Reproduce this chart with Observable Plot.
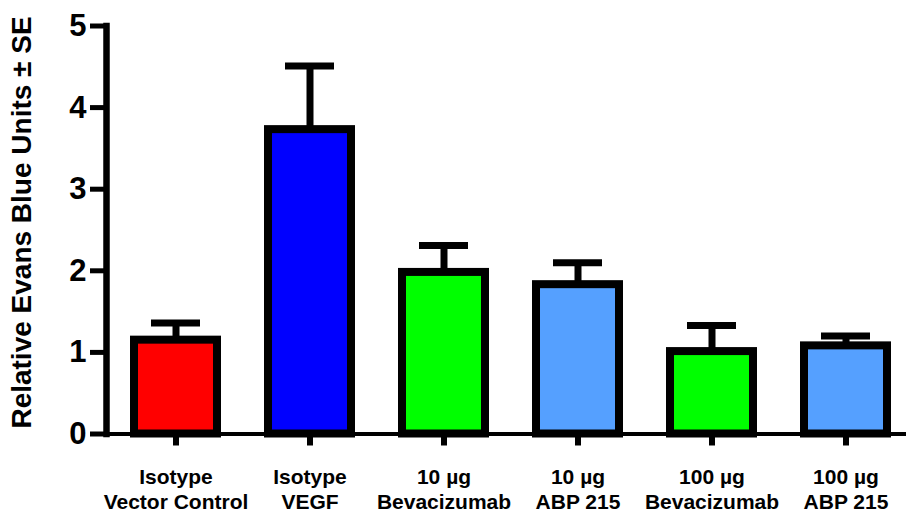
<!DOCTYPE html>
<html>
<head>
<meta charset="utf-8">
<script src="https://cdn.jsdelivr.net/npm/d3@7"></script>
<script src="https://cdn.jsdelivr.net/npm/@observablehq/plot@0.6"></script>
<style>
  html, body { margin: 0; padding: 0; background: #fff; }
  svg { display: block; }
</style>
</head>
<body>
<div id="chart"></div>
<script>
const categories = [
  "Isotype\nVector Control",
  "Isotype\nVEGF",
  "10 µg\nBevacizumab",
  "10 µg\nABP 215",
  "100 µg\nBevacizumab",
  "100 µg\nABP 215"
];
const means = [1.15, 3.73, 1.98, 1.83, 1.01, 1.08];
const errors = [0.21, 0.78, 0.33, 0.27, 0.32, 0.12];
const colors = ["#ff0000", "#0000ff", "#00ff00", "#55a0ff", "#00ff00", "#55a0ff"];
const yTicks = [0, 1, 2, 3, 4, 5];
const yLabel = "Relative Evans Blue Units ± SE";

const data = categories.map((c, i) => ({
  group: c,
  mean: means[i],
  hi: means[i] + errors[i],
  color: colors[i]
}));

const font = "'Liberation Sans', Arial, sans-serif";

const chart = Plot.plot({
  width: 906,
  height: 512,
  marginLeft: 106,
  marginRight: 0,
  marginTop: 25.5,
  marginBottom: 78.5,
  style: { fontFamily: font, background: "#fff" },
  x: {
    domain: categories,
    range: [115.5, 906],
    paddingInner: 0.377,
    paddingOuter: 0.119,
    axis: null
  },
  y: { domain: [0, 5], axis: null },
  marks: [
    Plot.ruleX(data, { x: "group", y1: "mean", y2: "hi", stroke: "black", strokeWidth: 7 }),
    Plot.tickY(data, { x: "group", y: "hi", stroke: "black", strokeWidth: 7, insetLeft: 17, insetRight: 17 }),
    Plot.barY(data, { x: "group", y: "mean", fill: "color", stroke: "black", strokeWidth: 8 }),
    Plot.ruleY([0], { stroke: "black", strokeWidth: 4 }),
    Plot.frame({ anchor: "left", stroke: "black", strokeWidth: 6.5 }),
    Plot.axisY({
      ticks: yTicks,
      tickFormat: "d",
      tickSize: 16,
      tickPadding: 4,
      strokeWidth: 5,
      fontSize: 31,
      fontWeight: "bold",
      label: null
    }),
    Plot.axisX({
      tickSize: 12,
      tickPadding: 20,
      strokeWidth: 6,
      fontSize: 21,
      fontWeight: "bold",
      lineHeight: 1.19,
      label: null
    }),
    Plot.text([yLabel], {
      text: d => d,
      frameAnchor: "left",
      rotate: -90,
      dx: -84,
      dy: -7.5,
      fontSize: 28,
      fontWeight: "bold",
      textAnchor: "middle",
      lineAnchor: "middle",
      fill: "black"
    })
  ]
});

document.getElementById("chart").append(chart);
</script>
</body>
</html>
